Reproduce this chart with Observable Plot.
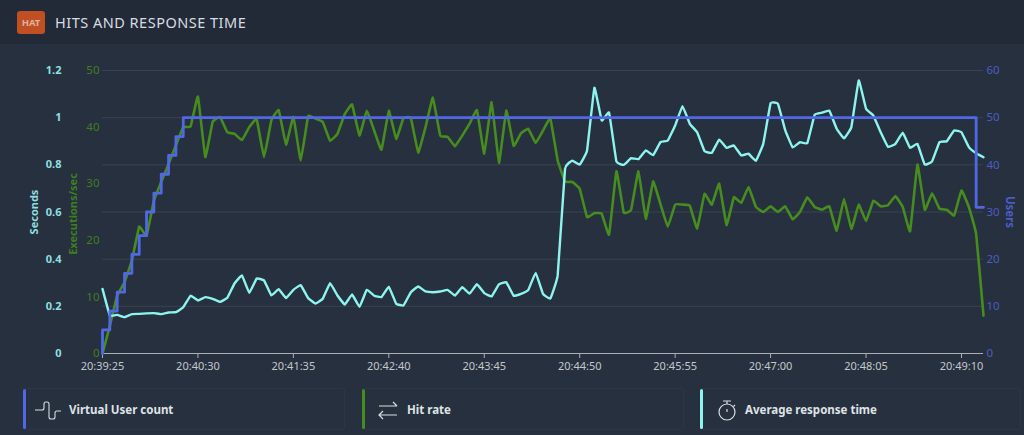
<!DOCTYPE html>
<html><head><meta charset="utf-8">
<script src="https://cdn.jsdelivr.net/npm/d3@7"></script>
<script src="https://cdn.jsdelivr.net/npm/@observablehq/plot@0.6"></script>
<style>
html,body{margin:0;padding:0;background:#27303e;width:1024px;height:435px;overflow:hidden;font-family:"Noto Sans","Open Sans",sans-serif}
#head{height:44px;background:#222a37;display:flex;align-items:center;position:relative}
#badge{position:absolute;left:17px;top:11px;width:28px;height:23px;border-radius:3px;background:#c04f24;color:#e0b09a;font-size:9.5px;font-weight:700;line-height:23px;text-align:center}
#title{position:absolute;left:55px;top:11px;line-height:23px;color:#d8dde2;font-size:14.5px;letter-spacing:.5px}
#chart{height:344px}
#chart svg{display:block;background:transparent}
#legend{position:relative;height:47px}
.lg{position:absolute;top:0;height:42px;box-sizing:border-box;border:1px solid #2d3645;border-left:none;border-radius:3px;color:#dfe3e6;font-size:11.5px;font-weight:700}
.lg i{position:absolute;left:0;top:0;bottom:0;width:3px;border-radius:2px}
.lg span{position:absolute;top:0;line-height:42px}
.lg svg{position:absolute;top:11px}
</style></head><body>
<div id="head"><div id="badge">HAT</div><div id="title">HITS AND RESPONSE TIME</div></div>
<div id="chart"></div>
<div id="legend"></div>
<script>
const startTime = "20:39:25";
const stepSeconds = 5;
const tickLabels = ["20:39:25","20:40:30","20:41:35","20:42:40","20:43:45","20:44:50","20:45:55","20:47:00","20:48:05","20:49:10"];
const secondsTicks = [0,0.2,0.4,0.6,0.8,1,1.2];
const hitsTicks = [0,10,20,30,40,50];
const usersTicks = [0,10,20,30,40,50,60];

const users = [0,5,9,13,17,21,25,30,34,38,42,46,
  50,50,50,50,50,50,50,50,50,50,50,50,50,50,50,50,50,50,
  50,50,50,50,50,50,50,50,50,50,50,50,50,50,50,50,50,50,50,50,
  50,50,50,50,50,50,50,50,50,50,50,50,50,50,50,50,50,50,50,50,
  50,50,50,50,50,50,50,50,50,50,50,50,50,50,50,50,50,50,50,50,
  50,50,50,50,50,50,50,50,50,50,50,50,50,50,50,50,50,50,50,50,
  50,50,50,50,50,50,50,50,50,50,31];

const hits = [0,4.9,10.2,12.6,16.4,22.4,20.8,27,30.3,33.5,36.8,40,
  40.1,45.4,34.7,40.9,41.8,39.1,38.8,37.7,40,41.4,34.7,41.2,43,36.9,41.8,34.1,41.9,41.5,
  40.9,37.6,38.8,42.3,44,38.5,42.9,39.4,36,42.9,37.9,41.6,41.6,35.5,40,45.2,38.5,38.3,36.6,38.5,
  40.6,43,35.3,44.4,33.7,42.9,36.7,38.9,39.7,37.2,39.4,41.5,34.1,30.4,30.3,29.1,24.1,24.8,24.7,21,
  32.2,24.9,25.4,32.2,23.8,30.4,26.4,22.4,26.3,26.3,26.1,22.1,28.2,26.3,30,22.7,27.6,26.6,29.4,25.9,
  25,26,25,26,23.7,25,27.6,25.9,25.4,26,21.7,27.3,22,26.3,23.4,27,26,26.2,27.8,25.9,
  21.6,33.4,25.4,28.3,25.6,25.4,24.4,28.8,25.9,21.1,6.7];

const responseTime = [.274,.161,.164,.154,.167,.168,.170,.171,.167,.174,.175,.196,
  .245,.225,.239,.232,.219,.236,.298,.331,.257,.318,.310,.246,.273,.235,.270,.290,.235,.212,
  .232,.298,.246,.208,.250,.198,.270,.245,.239,.283,.211,.204,.260,.284,.263,.260,.263,.270,.246,.281,
  .254,.294,.256,.242,.293,.302,.245,.253,.270,.342,.253,.233,.331,.783,.818,.801,.861,1.127,.988,1.021,
  .814,.800,.828,.824,.861,.841,.896,.903,.967,1.049,.974,.938,.858,.851,.907,.872,.882,.840,.847,.817,
  .889,1.061,1.059,.946,.874,.896,.892,1.012,1.021,1.030,.953,.912,.960,1.158,1.038,1.009,.938,.876,.889,.936,
  .872,.889,.801,.815,.896,.900,.946,.938,.875,.849,.832];

const parseT = d3.utcParse("%H:%M:%S");
const t0 = parseT(startTime);
const timeAt = i => new Date(+t0 + i * stepSeconds * 1000);
const index = d3.range(users.length);
const hitsK = 60 / 50, secK = 60 / 1.2;
const font = '"Noto Sans","Open Sans",sans-serif';
const cBlue="#5068e6", cGreen="#468c1e", cCyan="#8cf5f0";

const plot = Plot.plot({
  width:1024, height:344,
  marginTop:26, marginBottom:35, marginLeft:102, marginRight:41,
  style:{background:"transparent",fontFamily:font,fontSize:"11px"},
  x:{type:"utc",domain:[t0,timeAt(120)],axis:null},
  y:{domain:[0,60],axis:null},
  marks:[
    Plot.gridY(usersTicks,{stroke:"#3a4351",strokeOpacity:1,strokeWidth:1}),
    Plot.ruleY([0],{stroke:"#a9afb6",strokeWidth:1.2}),
    Plot.axisX(tickLabels.map(parseT),{tickFormat:d3.utcFormat("%H:%M:%S"),tickSize:5,tickPadding:4,stroke:"#a9afb6",fill:"#c3c8cd",label:null,fontSize:11}),
    Plot.axisY(secondsTicks.map(d=>d*secK),{anchor:"left",tickSize:0,tickPadding:41,tickFormat:d=>String(+(d/secK).toFixed(1)),fill:"#8fdfe0",fontWeight:700,label:null,fontSize:11}),
    Plot.axisY(hitsTicks.map(d=>d*hitsK),{anchor:"left",tickSize:0,tickPadding:3,tickFormat:d=>String(Math.round(d/hitsK)),fill:"#3f7f22",label:null,fontSize:11.5}),
    Plot.axisY(usersTicks,{anchor:"right",tickSize:0,tickPadding:3,fill:"#4c5cc4",label:null,fontSize:11.5}),
    Plot.text(["Seconds"],{text:d=>d,frameAnchor:"left",textAnchor:"middle",dx:-68,rotate:-90,fill:"#8fdfe0",fontWeight:700,fontSize:11}),
    Plot.text(["Executions/sec"],{text:d=>d,frameAnchor:"left",textAnchor:"middle",dx:-29,dy:2,rotate:-90,fill:"#3f7f22",fontWeight:700,fontSize:11}),
    Plot.text(["Users"],{text:d=>d,frameAnchor:"right",textAnchor:"middle",dx:26,rotate:90,fill:"#4c5cc4",fontWeight:700,fontSize:11.5}),
    Plot.line(index,{x:timeAt,y:i=>hits[i]*hitsK,stroke:cGreen,strokeWidth:2.6,strokeLinejoin:"round",curve:"cardinal",tension:0.75}),
    Plot.line(index,{x:timeAt,y:i=>responseTime[i]*secK,stroke:cCyan,strokeWidth:2.4,strokeLinejoin:"round",curve:"cardinal",tension:0.75}),
    Plot.line(index,{x:timeAt,y:i=>users[i],stroke:cBlue,strokeWidth:2.8,curve:"step-before"})
  ]
});
document.getElementById("chart").appendChild(plot);

const legendNames = ["Virtual User count","Hit rate","Average response time"];
const legendColors = [cBlue,cGreen,cCyan];
const legendLeft = [23,362,700];
const legendIconLeft = [12,16,17];
const legendTextLeft = [46,45,45];
const icons = [
 '<path d="M0 10H7Q9 10 9 8V4Q9 2 11 2H12Q14 2 14 4V17Q14 19 16 19H18Q20 19 20 17V13Q20 11 22 11H26" fill="none" stroke="#d8dde2" stroke-width="1.1"/>',
 '<path d="M1 6H19M15 2L19 6M1 15H19M5 11L1 15L5 19" fill="none" stroke="#d8dde2" stroke-width="1.2"/>',
 '<circle cx="10" cy="12" r="8" fill="none" stroke="#d8dde2" stroke-width="1.2"/><path d="M6 1H14M10 1V4M10 9V12M18 5L16.5 6.5" fill="none" stroke="#d8dde2" stroke-width="1.2"/>'
];
const legendEl = document.getElementById("legend");
legendNames.forEach((n,k)=>{
  const d=document.createElement("div");d.className="lg";
  d.style.left=legendLeft[k]+"px";d.style.width=(k==2?321:322)+"px";
  d.innerHTML=`<i style="background:${legendColors[k]}"></i><svg width="28" height="22" style="left:${legendIconLeft[k]}px">${icons[k]}</svg><span style="left:${legendTextLeft[k]}px">${n}</span>`;
  legendEl.appendChild(d);
});
</script>
</body></html>
